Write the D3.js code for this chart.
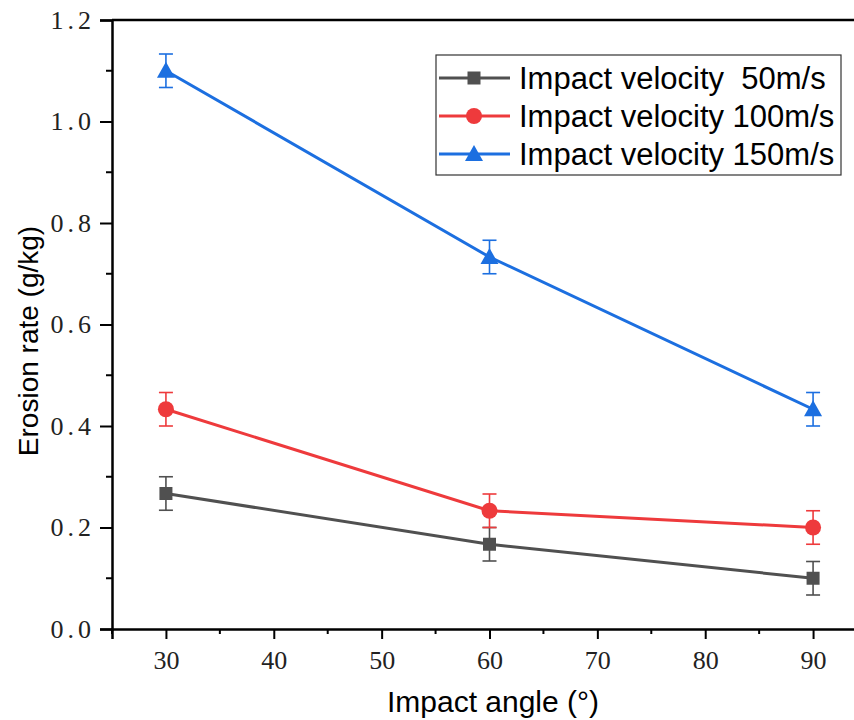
<!DOCTYPE html>
<html>
<head>
<meta charset="utf-8">
<script src="https://cdn.jsdelivr.net/npm/d3@7"></script>
<style>
  body { margin: 0; background: #fff; }
  svg { display: block; }
</style>
</head>
<body>
<script>
const width = 854;
const height = 720;

// data
const angles = [30, 60, 90];
const rate50 = [0.267, 0.167, 0.1];
const rate100 = [0.433, 0.233, 0.2];
const rate150 = [1.1, 0.733, 0.433];
const err50 = [0.033, 0.033, 0.033];
const err100 = [0.033, 0.033, 0.033];
const err150 = [0.033, 0.033, 0.033];
const seriesNames = ["Impact velocity  50m/s", "Impact velocity 100m/s", "Impact velocity 150m/s"];
const yTicks = [0, 0.2, 0.4, 0.6, 0.8, 1.0, 1.2];
const xTicks = [30, 40, 50, 60, 70, 80, 90];

const series = [
  { name: seriesNames[0], values: rate50, errs: err50, color: "#505050", shape: "square" },
  { name: seriesNames[1], values: rate100, errs: err100, color: "#ee3a3c", shape: "circle" },
  { name: seriesNames[2], values: rate150, errs: err150, color: "#1c6fe0", shape: "triangle" }
];

const margin = { left: 112, top: 20, right: -13, bottom: 91 };

const x = d3.scaleLinear()
  .domain([25, 95])
  .range([margin.left, width - margin.right]);

const y = d3.scaleLinear()
  .domain([0, 1.2])
  .range([height - margin.bottom, margin.top]);

const svg = d3.select("body")
  .append("svg")
  .attr("width", width)
  .attr("height", height);

// top frame line
svg.append("line")
  .attr("x1", x(25)).attr("x2", x(95))
  .attr("y1", y(1.2)).attr("y2", y(1.2))
  .attr("stroke", "#000").attr("stroke-width", 2.5);

// minor ticks
const yMinor = [0.1, 0.3, 0.5, 0.7, 0.9, 1.1];
svg.selectAll(".yminor")
  .data(yMinor)
  .enter().append("line")
  .attr("x1", x(25) - 6).attr("x2", x(25))
  .attr("y1", d => y(d)).attr("y2", d => y(d))
  .attr("stroke", "#000").attr("stroke-width", 2);

const xMinor = [25, 35, 45, 55, 65, 75, 85, 95];
svg.selectAll(".xminor")
  .data(xMinor)
  .enter().append("line")
  .attr("x1", d => x(d)).attr("x2", d => x(d))
  .attr("y1", y(0)).attr("y2", y(0) + 5)
  .attr("stroke", "#000").attr("stroke-width", 2);

// axes
const yAxis = svg.append("g")
  .attr("transform", "translate(" + x(25) + ",0)")
  .call(d3.axisLeft(y).tickValues(yTicks).tickSize(12).tickPadding(5)
    .tickFormat(d3.format(".1f")));

const xAxis = svg.append("g")
  .attr("transform", "translate(0," + y(0) + ")")
  .call(d3.axisBottom(x).tickValues(xTicks).tickSize(10).tickPadding(10)
    .tickFormat(d3.format("d")));

[yAxis, xAxis].forEach(g => {
  g.select(".domain").attr("stroke", "#000").attr("stroke-width", 2.5);
  g.selectAll(".tick line").attr("stroke", "#000").attr("stroke-width", 2);
  g.selectAll(".tick text")
    .attr("fill", "#222")
    .style("font-family", "'Liberation Serif', 'DejaVu Serif', serif")
    .style("font-size", "26px");
});
yAxis.selectAll(".tick text").style("letter-spacing", "4px");
xAxis.selectAll(".tick text").attr("dy", "0.75em");

// axis titles
svg.append("text")
  .attr("x", 493).attr("y", 712)
  .attr("text-anchor", "middle")
  .style("font-family", "'Liberation Sans', Arial, sans-serif")
  .style("font-size", "30px")
  .text("Impact angle (°)");

svg.append("text")
  .attr("transform", "translate(38,341) rotate(-90)")
  .attr("text-anchor", "middle")
  .style("font-family", "'Liberation Sans', Arial, sans-serif")
  .style("font-size", "28px")
  .text("Erosion rate (g/kg)");

function drawMarker(g, shape, color) {
  if (shape === "square") {
    g.append("rect").attr("x", -6.5).attr("y", -6.5).attr("width", 13).attr("height", 13).attr("fill", color);
  } else if (shape === "circle") {
    g.append("circle").attr("r", 8).attr("fill", color);
  } else {
    g.append("path").attr("d", "M0,-9L9,7L-9,7Z").attr("fill", color);
  }
}

const line = d3.line()
  .x((d, i) => x(angles[i]))
  .y(d => y(d));

series.forEach(s => {
  const g = svg.append("g");
  g.append("path")
    .datum(s.values)
    .attr("d", line)
    .attr("fill", "none")
    .attr("stroke", s.color)
    .attr("stroke-width", 3);

  // error bars
  s.values.forEach((v, i) => {
    const cx = x(angles[i]);
    const eb = g.append("g").attr("stroke", s.color).attr("stroke-width", 1.6);
    eb.append("line").attr("x1", cx).attr("x2", cx).attr("y1", y(v - s.errs[i])).attr("y2", y(v + s.errs[i]));
    eb.append("line").attr("x1", cx - 7).attr("x2", cx + 7).attr("y1", y(v - s.errs[i])).attr("y2", y(v - s.errs[i]));
    eb.append("line").attr("x1", cx - 7).attr("x2", cx + 7).attr("y1", y(v + s.errs[i])).attr("y2", y(v + s.errs[i]));
  });

  s.values.forEach((v, i) => {
    const m = g.append("g").attr("transform", "translate(" + x(angles[i]) + "," + y(v) + ")");
    drawMarker(m, s.shape, s.color);
  });
});

// legend
const legend = svg.append("g");
legend.append("rect")
  .attr("x", 436).attr("y", 55)
  .attr("width", 405).attr("height", 120)
  .attr("fill", "#fff")
  .attr("stroke", "#333").attr("stroke-width", 1.2);

series.forEach((s, i) => {
  const ly = 78 + i * 38;
  legend.append("line")
    .attr("x1", 439).attr("x2", 510)
    .attr("y1", ly).attr("y2", ly)
    .attr("stroke", s.color).attr("stroke-width", 3);
  const m = legend.append("g").attr("transform", "translate(474," + ly + ")");
  drawMarker(m, s.shape, s.color);
  legend.append("text")
    .attr("x", 519).attr("y", ly)
    .attr("dy", "0.36em")
    .attr("xml:space", "preserve")
    .style("white-space", "pre")
    .style("font-family", "'Liberation Sans', Arial, sans-serif")
    .style("font-size", "31px")
    .text(s.name);
});
</script>
</body>
</html>
